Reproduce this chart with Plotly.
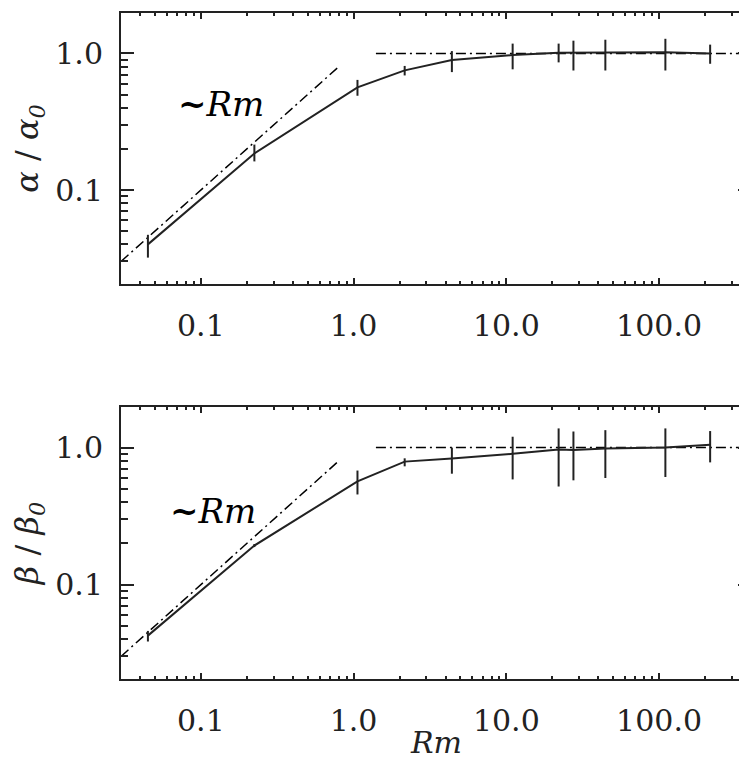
import math
import plotly.graph_objects as go
from plotly.subplots import make_subplots

# magnetic Reynolds numbers of the runs
rm = [0.045, 0.224, 1.06, 2.16, 4.4, 11.0, 22.0, 27.5, 44.5, 110.0, 216.0]

# alpha / alpha_0 with upper and lower ends of the error bars
alpha = [0.040, 0.185, 0.565, 0.752, 0.894, 0.973, 1.01, 1.01, 1.02, 1.02, 1.0]
alpha_hi = [0.047, 0.215, 0.64, 0.81, 1.04, 1.18, 1.18, 1.24, 1.26, 1.28, 1.16]
alpha_lo = [0.032, 0.162, 0.49, 0.69, 0.73, 0.765, 0.86, 0.75, 0.75, 0.75, 0.84]

# beta / beta_0
beta = [0.0425, 0.193, 0.567, 0.79, 0.831, 0.90, 0.97, 0.96, 0.983, 1.0, 1.05]
beta_hi = [0.046, 0.198, 0.68, 0.835, 1.0, 1.2, 1.38, 1.31, 1.34, 1.38, 1.32]
beta_lo = [0.0385, 0.188, 0.455, 0.73, 0.645, 0.586, 0.52, 0.577, 0.60, 0.61, 0.78]

# reference lines: ~Rm at low Rm, saturation at 1 for high Rm
lin_x = [0.03, 0.81]
lin_y = [0.03, 0.81]
sat_x = [1.4, 400.0]
sat_y = [1.0, 1.0]

FONT = "DejaVu Serif"
INK = "#222222"
DASHDOT = "10px,4px,2px,4px"

fig = make_subplots(rows=2, cols=1)

panels = [
    (alpha, alpha_hi, alpha_lo, 1, "<i>α</i> / <i>α<sub>0</sub></i>", 0.135, 0.424),
    (beta, beta_hi, beta_lo, 2, "<i>β</i> / <i>β<sub>0</sub></i>", 0.12, 0.347),
]

for vals, hi, lo, row, title, tx, ty in panels:
    err_up = [h - v for h, v in zip(hi, vals)]
    err_dn = [v - l for v, l in zip(vals, lo)]
    fig.add_trace(go.Scatter(x=lin_x, y=lin_y, mode="lines",
                             line=dict(color="black", width=1.5, dash=DASHDOT),
                             showlegend=False), row=row, col=1)
    fig.add_trace(go.Scatter(x=sat_x, y=sat_y, mode="lines",
                             line=dict(color="black", width=1.5, dash=DASHDOT),
                             showlegend=False), row=row, col=1)
    fig.add_trace(go.Scatter(x=rm, y=vals, mode="lines",
                             line=dict(color=INK, width=2),
                             error_y=dict(type="data", array=err_up, arrayminus=err_dn,
                                          color=INK, thickness=2, width=0),
                             showlegend=False), row=row, col=1)
    # annotation positions on log axes are given in log10 units
    fig.add_annotation(x=math.log10(tx), y=math.log10(ty), row=row, col=1,
                       text="<b>~</b><i>Rm</i>", showarrow=False,
                       font=dict(family=FONT, size=34, color="black"))
    fig.update_yaxes(title=dict(text=title, font=dict(family=FONT, size=32), standoff=18),
                     row=row, col=1)

common = dict(type="log", tickmode="linear", tick0=0, dtick=1, tickformat=".1f",
              ticks="inside", tickwidth=2, tickcolor=INK, mirror="ticks",
              showline=True, linewidth=2, linecolor=INK,
              showgrid=False, zeroline=False,
              tickfont=dict(family=FONT, size=30, color=INK))

fig.update_xaxes(range=[-1.523, 2.602], ticklen=6, ticklabelstandoff=14,
                 minor=dict(dtick="D1", ticks="inside", ticklen=3, tickwidth=2,
                            tickcolor=INK, showgrid=False),
                 **common)
fig.update_yaxes(range=[-1.688, 0.296], ticklen=13, ticklabelstandoff=10,
                 minor=dict(dtick="D1", ticks="inside", ticklen=7, tickwidth=2,
                            tickcolor=INK, showgrid=False),
                 **common)

fig.add_annotation(x=0.5, y=-0.095, xref="paper", yref="paper", yanchor="middle",
                   text="<i>Rm</i>", showarrow=False,
                   font=dict(family=FONT, size=30, color=INK))

fig.update_layout(
    width=747, height=760,
    margin=dict(l=113, r=2, t=5, b=89),
    paper_bgcolor="white", plot_bgcolor="white",
    xaxis=dict(domain=[0, 1]), xaxis2=dict(domain=[0, 1]),
    yaxis=dict(domain=[0.5931, 1.0]), yaxis2=dict(domain=[0.0, 0.4084]),
    font=dict(family=FONT, color=INK),
)

fig.write_html("out.html")
